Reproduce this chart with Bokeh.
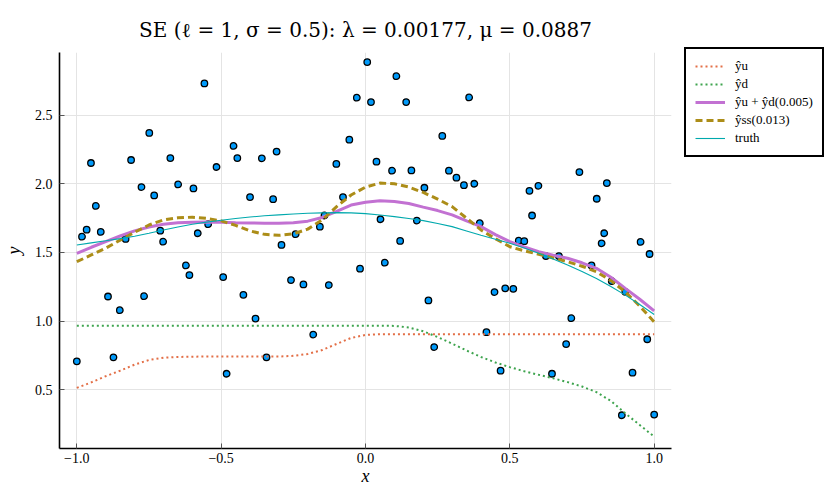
from bokeh.plotting import figure
from bokeh.models import Range1d, FixedTicker, CustomJSTickFormatter, Legend, LegendItem
from bokeh.embed import file_html
from bokeh.resources import INLINE

# ---- observed data points ----
obs_x = [-1.000, -0.982, -0.966, -0.951, -0.934, -0.917, -0.892, -0.873, -0.851, -0.831,
         -0.812, -0.776, -0.767, -0.749, -0.732, -0.711, -0.701, -0.676, -0.649, -0.622,
         -0.610, -0.596, -0.581, -0.558, -0.545, -0.516, -0.493, -0.481, -0.457, -0.444,
         -0.423, -0.400, -0.381, -0.359, -0.343, -0.320, -0.308, -0.291, -0.258, -0.242,
         -0.215, -0.181, -0.158, -0.142, -0.127, -0.101, -0.078, -0.056, -0.030, -0.019,
         0.006, 0.019, 0.038, 0.052, 0.067, 0.092, 0.107, 0.120, 0.141, 0.159,
         0.178, 0.204, 0.218, 0.238, 0.266, 0.289, 0.315, 0.341, 0.359, 0.377,
         0.396, 0.419, 0.447, 0.468, 0.484, 0.512, 0.531, 0.550, 0.568, 0.577,
         0.599, 0.625, 0.646, 0.670, 0.695, 0.713, 0.741, 0.783, 0.801, 0.818,
         0.827, 0.836, 0.853, 0.888, 0.900, 0.925, 0.953, 0.976, 0.984, 1.000]
obs_y = [0.708, 1.615, 1.666, 2.151, 1.839, 1.650, 1.180, 0.737, 1.080, 1.599,
         2.173, 1.976, 1.182, 2.370, 1.915, 1.659, 1.579, 2.187, 1.995, 1.406,
         1.336, 1.966, 1.640, 2.730, 1.706, 2.122, 1.321, 0.618, 2.275, 2.187,
         1.192, 1.903, 1.019, 2.185, 0.737, 1.888, 2.234, 1.555, 1.299, 1.633,
         1.268, 0.903, 1.688, 1.769, 1.263, 2.144, 1.903, 2.321, 2.626, 1.382,
         2.885, 2.594, 2.161, 1.742, 1.426, 2.095, 2.783, 1.584, 2.594, 2.097,
         1.732, 1.971, 1.151, 0.812, 2.348, 2.095, 2.044, 1.990, 2.628, 2.000,
         1.713, 0.920, 1.212, 0.640, 1.239, 1.236, 1.586, 1.582, 1.949, 1.769,
         1.985, 1.474, 0.618, 1.474, 0.834, 1.022, 2.085, 1.406, 1.891, 1.567,
         1.640, 2.005, 1.292, 0.316, 1.214, 0.626, 1.577, 0.869, 1.489, 0.321]

# ---- fitted curves (read at x = -1.00, -0.95, ..., 1.00) ----
curve_x = [-1.00, -0.95, -0.90, -0.85, -0.80, -0.75, -0.70, -0.65, -0.60, -0.55,
           -0.50, -0.45, -0.40, -0.35, -0.30, -0.25, -0.20, -0.15, -0.10, -0.05,
           0.00, 0.05, 0.10, 0.15, 0.20, 0.25, 0.30, 0.35, 0.40, 0.45,
           0.50, 0.55, 0.60, 0.65, 0.70, 0.75, 0.80, 0.85, 0.90, 0.95, 1.00]
y_u = [0.515, 0.555, 0.600, 0.640, 0.684, 0.718, 0.735, 0.740, 0.742, 0.743,
       0.743, 0.743, 0.743, 0.743, 0.743, 0.748, 0.762, 0.790, 0.835, 0.878,
       0.900, 0.905, 0.905, 0.905, 0.905, 0.905, 0.905, 0.905, 0.905, 0.905,
       0.905, 0.905, 0.905, 0.905, 0.905, 0.905, 0.905, 0.905, 0.905, 0.905, 0.905]
y_d = [0.967, 0.967, 0.967, 0.967, 0.967, 0.967, 0.967, 0.967, 0.967, 0.967,
       0.967, 0.967, 0.967, 0.967, 0.967, 0.967, 0.967, 0.967, 0.967, 0.967,
       0.967, 0.967, 0.966, 0.955, 0.927, 0.885, 0.837, 0.787, 0.740, 0.700,
       0.666, 0.636, 0.610, 0.585, 0.557, 0.525, 0.484, 0.420, 0.330, 0.245, 0.160]
y_sum = [1.494, 1.538, 1.579, 1.620, 1.657, 1.685, 1.706, 1.716, 1.720, 1.721,
         1.720, 1.717, 1.715, 1.713, 1.713, 1.717, 1.728, 1.755, 1.800, 1.845,
         1.866, 1.876, 1.871, 1.856, 1.830, 1.805, 1.774, 1.730, 1.688, 1.630,
         1.579, 1.540, 1.506, 1.480, 1.458, 1.425, 1.385, 1.320, 1.239, 1.160, 1.075]
y_ss = [1.433, 1.482, 1.531, 1.590, 1.647, 1.700, 1.737, 1.752, 1.757, 1.748,
        1.730, 1.697, 1.657, 1.632, 1.625, 1.635, 1.670, 1.737, 1.834, 1.918,
        1.976, 2.005, 2.000, 1.976, 1.937, 1.888, 1.834, 1.750, 1.664, 1.600,
        1.542, 1.512, 1.487, 1.460, 1.433, 1.400, 1.360, 1.295, 1.214, 1.110, 0.995]
y_truth = [1.555, 1.570, 1.585, 1.601, 1.618, 1.640, 1.664, 1.685, 1.705, 1.721,
           1.735, 1.747, 1.758, 1.767, 1.774, 1.780, 1.785, 1.788, 1.790, 1.788,
           1.783, 1.773, 1.761, 1.747, 1.732, 1.711, 1.688, 1.657, 1.625, 1.597,
           1.567, 1.532, 1.494, 1.453, 1.409, 1.362, 1.311, 1.253, 1.190, 1.122, 1.049]

labels = ["ŷu", "ŷd", "ŷu + ŷd(0.005)", "ŷss(0.013)", "truth"]
x_ticks = [-1.0, -0.5, 0.0, 0.5, 1.0]
y_ticks = [0.5, 1.0, 1.5, 2.0, 2.5]
title_text = "SE (ℓ = 1, σ = 0.5): λ = 0.00177, μ = 0.0887"

SERIF = "Liberation Serif"

p = figure(frame_width=612, frame_height=396, output_backend="svg", toolbar_location=None,
           x_range=Range1d(-1.06, 1.06), y_range=Range1d(0.074, 2.955),
           min_border_left=59, min_border_right=0, min_border_top=52,
           min_border_bottom=44, background_fill_color="white",
           border_fill_color="white")
p.outline_line_color = None

p.title.text = title_text
p.title.align = "center"
p.title.text_font = "DejaVu Serif"
p.title.text_font_size = "20px"
p.title.text_font_style = "normal"
p.title.text_color = "black"
p.title.standoff = 22

for ax in (p.xaxis[0], p.yaxis[0]):
    ax.axis_line_color = "black"
    ax.axis_line_width = 1.6
    ax.major_tick_in = 5
    ax.major_tick_out = 0
    ax.major_tick_line_color = "#555555"
    ax.minor_tick_line_color = None
    ax.major_label_text_font = SERIF
    ax.major_label_text_font_size = "14px"
    ax.major_label_text_color = "black"
    ax.axis_label_text_font = SERIF
    ax.axis_label_text_font_size = "18px"
    ax.axis_label_text_font_style = "italic"
    ax.axis_label_text_color = "black"
    ax.formatter = CustomJSTickFormatter(code="return tick.toFixed(1).replace('-', '\u2212');")

p.xaxis[0].ticker = FixedTicker(ticks=x_ticks)
p.yaxis[0].ticker = FixedTicker(ticks=y_ticks)
p.xaxis[0].axis_label = "x"
p.yaxis[0].axis_label = "y"
p.xaxis[0].major_label_standoff = 4
p.yaxis[0].major_label_standoff = 7
p.xaxis[0].axis_label_standoff = 0
p.yaxis[0].axis_label_standoff = 8

p.grid.grid_line_color = "#e4e4e4"
p.grid.grid_line_width = 1

p.scatter(obs_x, obs_y, size=6.5, fill_color="#009AFA", line_color="black", line_width=1.3)

r_u = p.line(curve_x, y_u, line_color="#E36F47", line_width=2, line_dash="2 3")
r_d = p.line(curve_x, y_d, line_color="#3EA44E", line_width=2, line_dash="2 3")
r_sum = p.line(curve_x, y_sum, line_color="#C271D2", line_width=3)
r_ss = p.line(curve_x, y_ss, line_color="#AC8D18", line_width=3, line_dash="7 4")
r_truth = p.line(curve_x, y_truth, line_color="#00A9AD", line_width=1.1)

legend = Legend(items=[LegendItem(label=l, renderers=[r]) for l, r in
                       zip(labels, [r_u, r_d, r_sum, r_ss, r_truth])],
                location=(13, 291))
legend.border_line_color = "black"
legend.border_line_width = 2
legend.border_line_alpha = 1.0
legend.background_fill_color = "white"
legend.background_fill_alpha = 1.0
legend.label_text_font = SERIF
legend.label_text_font_size = "13px"
legend.label_text_color = "black"
legend.glyph_width = 30
legend.glyph_height = 14
legend.label_height = 14
legend.spacing = 2
legend.padding = 9
legend.margin = 0
legend.label_standoff = 10
p.add_layout(legend, "right")
p.min_border_right = 158

open("out.html", "w").write(file_html(p, INLINE))
